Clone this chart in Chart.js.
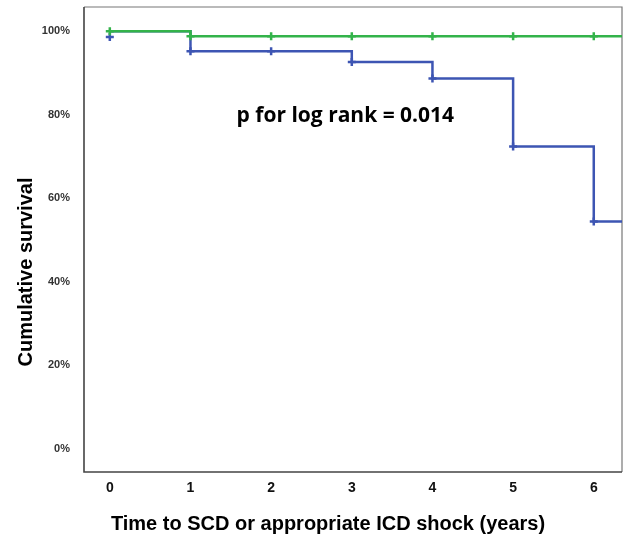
<!DOCTYPE html>
<html>
<head>
<meta charset="utf-8">
<script src="https://cdn.jsdelivr.net/npm/chart.js@4"></script>
<style>
  html, body { margin: 0; padding: 0; background: #fff; }
  #wrap { width: 624px; height: 546px; }
</style>
</head>
<body>
<div id="wrap"><canvas id="myCanvas" width="624" height="546"></canvas></div>
<script>
// Kaplan-Meier step data (years, % survival)
const greenTimes = [0, 1, 2, 3, 4, 5, 6, 6.35];
const greenSurv = [100, 98.8, 98.8, 98.8, 98.8, 98.8, 98.8, 98.8];
const blueTimes = [0, 1, 2, 3, 4, 5, 6, 6.35];
const blueSurv = [100, 95.2, 95.2, 92.6, 88.7, 72.4, 54.4, 54.4];

// censor marks
const greenCensorT = [0, 1, 2, 3, 4, 5, 6];
const greenCensorS = [100, 98.8, 98.8, 98.8, 98.8, 98.8, 98.8];
const blueCensorT = [0, 1, 2, 3, 4, 5, 6];
const blueCensorS = [98.6, 95.2, 95.2, 92.6, 88.7, 72.4, 54.4];

const xTicks = [0, 1, 2, 3, 4, 5, 6];
const yTicks = [0, 20, 40, 60, 80, 100];

const GREEN = "#33b34a";
const BLUE = "#3d55b3";

const toPts = (xs, ys) => xs.map((x, i) => ({ x: x, y: ys[i] }));

// chart.js adds room for end labels, we don't want that here
const noPad = (s) => {
  s.paddingLeft = 0; s.paddingRight = 0; s.paddingTop = 0; s.paddingBottom = 0;
};

const textPlugin = {
  id: "texts",
  afterDraw(chart) {
    const ctx = chart.ctx;
    const xs = chart.scales.x, ys = chart.scales.y;
    ctx.save();
    ctx.fillStyle = "#000";
    ctx.textAlign = "center";
    ctx.textBaseline = "middle";
    ctx.font = "bold 21px 'Open Sans', sans-serif";
    ctx.fillText("p for log rank = 0.014", xs.getPixelForValue(2.92), ys.getPixelForValue(79.6));
    ctx.font = "bold 20px 'Liberation Sans', Arial, sans-serif";
    ctx.fillText("Time to SCD or appropriate ICD shock (years)", 328, 524);
    ctx.translate(26, 272);
    ctx.rotate(-Math.PI / 2);
    ctx.fillText("Cumulative survival", 0, 0);
    ctx.restore();
  }
};

const framePlugin = {
  id: "frame",
  beforeDatasetsDraw(chart) {
    const { ctx, chartArea: a } = chart;
    ctx.save();
    ctx.strokeStyle = "#777";
    ctx.lineWidth = 1.2;
    ctx.beginPath();
    ctx.moveTo(a.left, a.top);
    ctx.lineTo(a.right, a.top);
    ctx.lineTo(a.right, a.bottom);
    ctx.stroke();
    ctx.strokeStyle = "#444";
    ctx.lineWidth = 1.6;
    ctx.beginPath();
    ctx.moveTo(a.left, a.top);
    ctx.lineTo(a.left, a.bottom);
    ctx.lineTo(a.right, a.bottom);
    ctx.stroke();
    ctx.restore();
  }
};

new Chart(document.getElementById("myCanvas"), {
  type: "line",
  data: {
    datasets: [
      {
        data: toPts(blueTimes, blueSurv),
        borderColor: BLUE,
        borderWidth: 2.5,
        stepped: true,
        pointRadius: 0,
        fill: false,
        order: 4
      },
      {
        data: toPts(blueCensorT, blueCensorS),
        showLine: false,
        pointStyle: "cross",
        pointRadius: 4,
        pointBorderWidth: 2.5,
        pointBorderColor: BLUE,
        order: 3
      },
      {
        data: toPts(greenTimes, greenSurv),
        borderColor: GREEN,
        borderWidth: 2.5,
        stepped: true,
        pointRadius: 0,
        fill: false,
        order: 2
      },
      {
        data: toPts(greenCensorT, greenCensorS),
        showLine: false,
        pointStyle: "cross",
        pointRadius: 4,
        pointBorderWidth: 2.5,
        pointBorderColor: GREEN,
        order: 1
      }
    ]
  },
  options: {
    responsive: false,
    animation: false,
    layout: { autoPadding: false, padding: { left: 0, right: 2, top: 7, bottom: 0 } },
    plugins: { legend: { display: false }, tooltip: { enabled: false } },
    scales: {
      x: {
        type: "linear",
        min: -0.32,
        max: 6.35,
        afterFit: (s) => { s.height = 74; noPad(s); },
        afterBuildTicks: (s) => { s.ticks = xTicks.map(v => ({ value: v })); },
        grid: { display: false, drawTicks: true, tickLength: 6, tickColor: "#444", tickWidth: 1.5 },
        border: { display: false },
        ticks: {
          color: "#111",
          font: { family: "'Liberation Sans', Arial, sans-serif", size: 14, weight: "bold" },
          padding: 2
        }
      },
      y: {
        type: "linear",
        min: -5.6,
        max: 105.8,
        afterFit: (s) => { s.width = 84; noPad(s); },
        afterBuildTicks: (s) => { s.ticks = yTicks.map(v => ({ value: v })); },
        grid: { display: false, drawTicks: true, tickLength: 4, tickColor: "#444", tickWidth: 1.2 },
        border: { display: false },
        ticks: {
          color: "#333",
          font: { family: "'Liberation Sans', Arial, sans-serif", size: 11, weight: "bold" },
          padding: 10,
          callback: (v) => v + "%"
        }
      }
    }
  },
  plugins: [framePlugin, textPlugin]
});
</script>
</body>
</html>
